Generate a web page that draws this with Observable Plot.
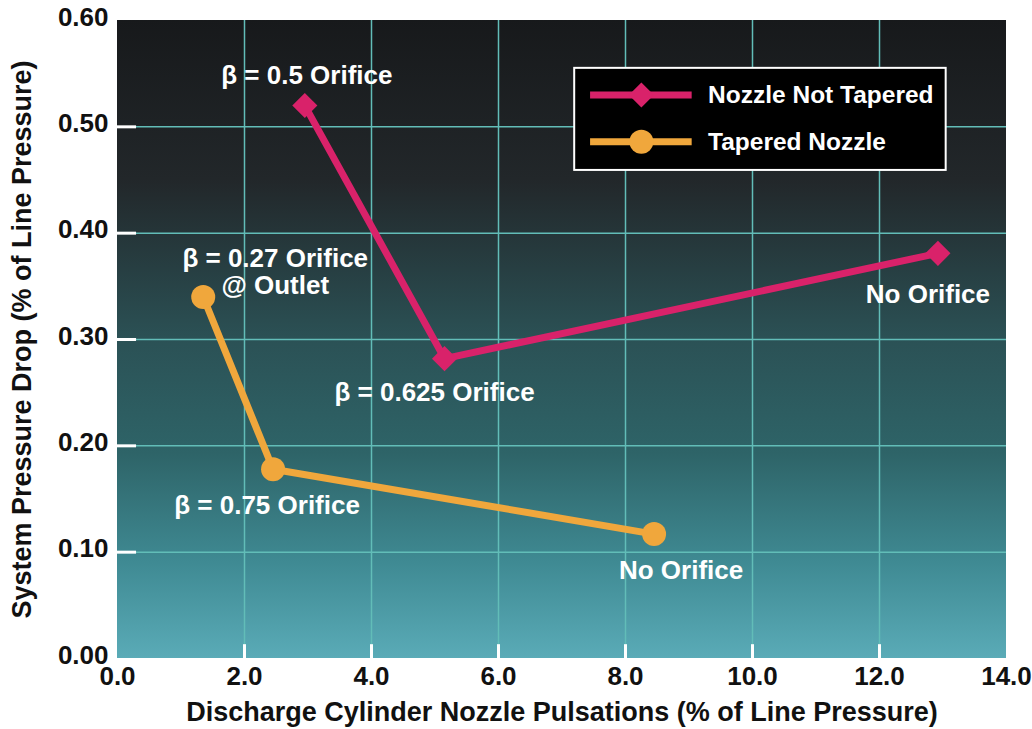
<!DOCTYPE html>
<html>
<head>
<meta charset="utf-8">
<script src="https://cdn.jsdelivr.net/npm/d3@7"></script>
<script src="https://cdn.jsdelivr.net/npm/@observablehq/plot@0.6"></script>
<style>
  html, body { margin: 0; padding: 0; background: #ffffff; }
  #chart { width: 1032px; height: 729px; }
  svg text { font-family: "Liberation Sans", Arial, sans-serif; font-weight: bold; }
</style>
</head>
<body>
<div id="chart"></div>
<script>
// ---- Data ----
const seriesNames = ["Nozzle Not Tapered", "Tapered Nozzle"];
const notTaperedX = [2.95, 5.15, 12.92];
const notTaperedY = [0.52, 0.282, 0.381];
const notTaperedLabels = ["β = 0.5 Orifice", "β = 0.625 Orifice", "No Orifice"];
const taperedX = [1.35, 2.45, 8.45];
const taperedY = [0.34, 0.178, 0.117];
const taperedLabels = ["β = 0.27 Orifice\n@ Outlet", "β = 0.75 Orifice", "No Orifice"];
const xTicks = [0, 2, 4, 6, 8, 10, 12, 14];
const yTicks = [0, 0.1, 0.2, 0.3, 0.4, 0.5, 0.6];
const xTitle = "Discharge Cylinder Nozzle Pulsations (% of Line Pressure)";
const yTitle = "System Pressure Drop (% of Line Pressure)";

// ---- Styles ----
const pink = "#d9226a";
const orange = "#f0a73c";
const gridColor = "#62bdb8";
const annFont = 26;

const nt = notTaperedX.map((x, i) => ({x, y: notTaperedY[i], label: notTaperedLabels[i], s: seriesNames[0]}));
const tp = taperedX.map((x, i) => ({x, y: taperedY[i], label: taperedLabels[i], s: seriesNames[1]}));

// label offsets (px) per point
const ntOffsets = [{dx: 2, dy: -30}, {dx: -10, dy: 34}, {dx: -10, dy: 41}];
const tpOffsets = [{dx: 72, dy: -25}, {dx: -6, dy: 36}, {dx: 27, dy: 36}];

// background gradient as a custom mark
function gradientBg(index, scales, values, dims) {
  const ns = "http://www.w3.org/2000/svg";
  const g = document.createElementNS(ns, "g");
  const defs = document.createElementNS(ns, "defs");
  const lg = document.createElementNS(ns, "linearGradient");
  lg.setAttribute("id", "bgGrad");
  lg.setAttribute("x1", "0"); lg.setAttribute("y1", "0");
  lg.setAttribute("x2", "0"); lg.setAttribute("y2", "1");
  const stops = [[0, "#17191b"], [0.25, "#22272a"], [0.5, "#2b5155"], [0.68, "#2e6468"], [0.85, "#3f8a93"], [1, "#5aabb7"]];
  for (const [o, c] of stops) {
    const st = document.createElementNS(ns, "stop");
    st.setAttribute("offset", o); st.setAttribute("stop-color", c);
    lg.appendChild(st);
  }
  defs.appendChild(lg);
  g.appendChild(defs);
  const r = document.createElementNS(ns, "rect");
  r.setAttribute("x", dims.marginLeft);
  r.setAttribute("y", dims.marginTop);
  r.setAttribute("width", dims.width - dims.marginLeft - dims.marginRight);
  r.setAttribute("height", dims.height - dims.marginTop - dims.marginBottom);
  r.setAttribute("fill", "url(#bgGrad)");
  g.appendChild(r);
  return g;
}

// legend in data coordinates (layout constants)
const legBox = {x1: 7.2, x2: 13.05, y1: 0.555, y2: 0.459};
const legRows = [
  {y: 0.53, s: seriesNames[0], color: pink},
  {y: 0.486, s: seriesNames[1], color: orange}
];

const plot = Plot.plot({
  width: 1032,
  height: 729,
  marginLeft: 117,
  marginRight: 26,
  marginTop: 20,
  marginBottom: 71,
  style: {background: "white", fontFamily: "Liberation Sans, Arial, sans-serif"},
  x: {domain: [0, 14], ticks: xTicks, tickFormat: d3.format(".1f")},
  y: {domain: [0, 0.6], ticks: yTicks, tickFormat: d3.format(".2f")},
  marks: [
    gradientBg,
    Plot.gridX(xTicks.slice(1, -1), {stroke: gridColor, strokeOpacity: 1, strokeWidth: 1.5}),
    Plot.gridY(yTicks.slice(1, -1), {stroke: gridColor, strokeOpacity: 1, strokeWidth: 1.5}),
    Plot.ruleY(yTicks.slice(1, -1), {x1: 0, x2: 0.3, stroke: "white", strokeWidth: 3}),
    Plot.ruleX(xTicks.slice(1, -1), {y1: 0, y2: 0.013, stroke: "white", strokeWidth: 3}),
    Plot.axisX({ticks: xTicks, tickFormat: d3.format(".1f"), tickSize: 0, tickPadding: 8, fontSize: 26, fill: "#111", label: null}),
    Plot.axisY({ticks: yTicks, tickFormat: d3.format(".2f"), tickSize: 0, tickPadding: 9, dy: -3, fontSize: 26, fill: "#111", label: null}),
    Plot.text([xTitle], {frameAnchor: "bottom", dy: 62, textAnchor: "middle", fontSize: 27, fill: "#111", fontWeight: "bold"}),
    Plot.text([yTitle], {frameAnchor: "left", dx: -95, textAnchor: "middle", rotate: -90, fontSize: 27, fill: "#111", fontWeight: "bold"}),
    // series lines
    Plot.line(nt, {x: "x", y: "y", stroke: pink, strokeWidth: 7}),
    Plot.line(tp, {x: "x", y: "y", stroke: orange, strokeWidth: 7}),
    Plot.dot(nt, {x: "x", y: "y", symbol: "square", r: 10, rotate: 45, fill: pink}),
    Plot.dot(tp, {x: "x", y: "y", r: 12, fill: orange}),
    // annotations
    ...nt.map((d, i) => Plot.text([d], {x: "x", y: "y", text: "label", dx: ntOffsets[i].dx, dy: ntOffsets[i].dy, fill: "white", fontSize: annFont, fontWeight: "bold"})),
    ...tp.map((d, i) => Plot.text([d], {x: "x", y: "y", text: "label", dx: tpOffsets[i].dx, dy: tpOffsets[i].dy, fill: "white", fontSize: annFont, fontWeight: "bold", lineHeight: 1.05})),
    // legend
    Plot.rect([legBox], {x1: "x1", x2: "x2", y1: "y1", y2: "y2", fill: "black", stroke: "white", strokeWidth: 2}),
    ...legRows.map(r => Plot.ruleY([r], {y: "y", x1: 7.45, x2: 9.05, stroke: r.color, strokeWidth: 7})),
    Plot.dot([legRows[0]], {x: 8.25, y: "y", symbol: "square", r: 10, rotate: 45, fill: pink}),
    Plot.dot([legRows[1]], {x: 8.25, y: "y", r: 12, fill: orange}),
    Plot.text(legRows, {x: 9.3, y: "y", text: "s", textAnchor: "start", fill: "white", fontSize: 24.5, fontWeight: "bold"})
  ]
});
document.getElementById("chart").appendChild(plot);
</script>
</body>
</html>
